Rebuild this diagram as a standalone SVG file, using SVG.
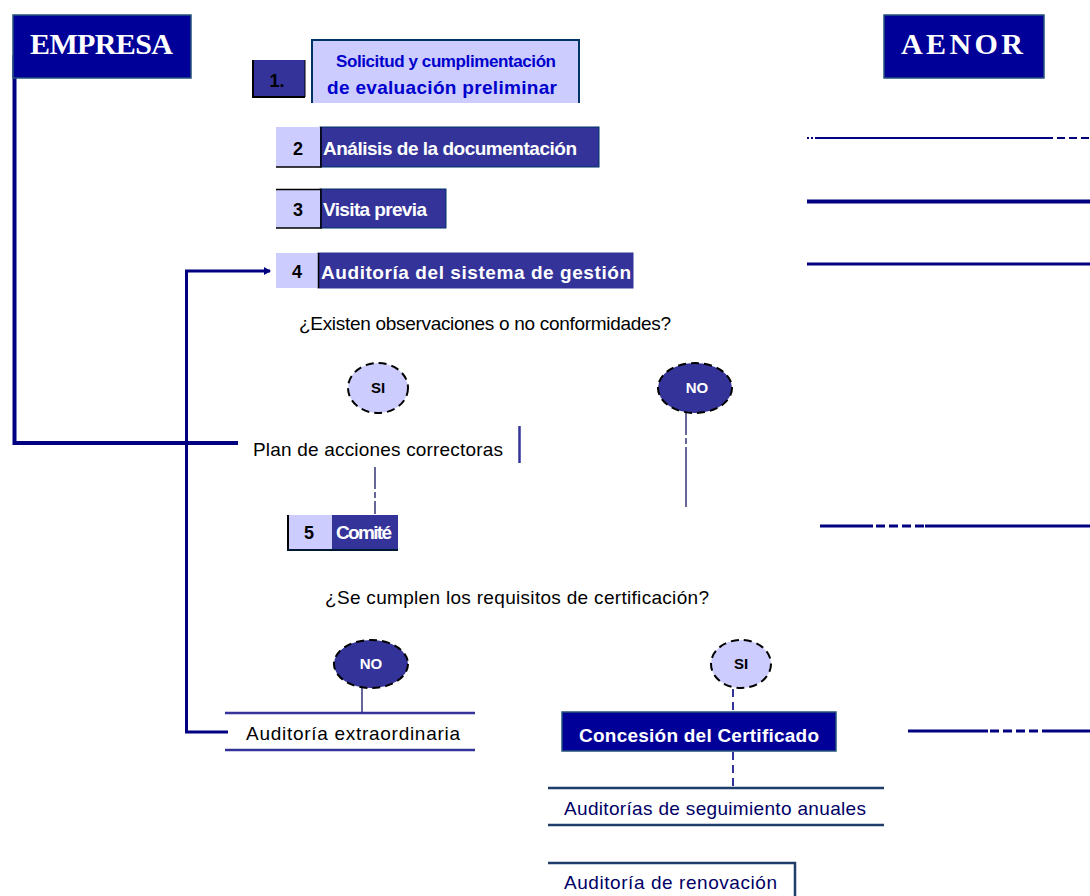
<svg xmlns="http://www.w3.org/2000/svg" width="1090" height="896" viewBox="0 0 1090 896">
<defs>
<style>
.hdr{fill:#000099;stroke:#24527a;stroke-width:1.5}
.hdrt{font-family:"Liberation Serif",serif;font-weight:bold;font-size:30px;fill:#fff}
.dark{fill:#333399}
.light{fill:#ccccff}
.wt{font-family:"Liberation Sans",Arial,sans-serif;font-weight:bold;font-size:19px;fill:#fff}
.num{font-family:"Liberation Sans",Arial,sans-serif;font-weight:bold;font-size:18px;fill:#000;text-anchor:middle}
.bt{font-family:"Liberation Sans",Arial,sans-serif;font-size:19px;fill:#000}
.nt{font-family:"Liberation Sans",Arial,sans-serif;font-size:19px;fill:#000066}
.lane{fill:none;stroke:#000080;stroke-width:4}
.flow{fill:none;stroke:#000080;stroke-width:3}
.thin{fill:none;stroke:#000080;stroke-width:2}
.grey{fill:none;stroke:#666699;stroke-width:2}
.gdash{fill:none;stroke:#666699;stroke-width:2;stroke-dasharray:22 3 6 3 60}
.ndash{fill:none;stroke:#333399;stroke-width:2;stroke-dasharray:8 5}
.rule{fill:none;stroke:#333399;stroke-width:2.5}
.rule2{fill:none;stroke:#1f3d6b;stroke-width:2.5}
.circL{fill:#ccccff;stroke:#000;stroke-width:2;stroke-dasharray:8 5}
.circD{fill:#333399;stroke:#000;stroke-width:2;stroke-dasharray:8 5}
.ct{font-family:"Liberation Sans",Arial,sans-serif;font-weight:bold;font-size:15px;text-anchor:middle}
.blue{font-family:"Liberation Sans",Arial,sans-serif;font-weight:bold;fill:#0000cc;text-anchor:middle}
</style>
<marker id="arr" markerWidth="8" markerHeight="8" refX="6" refY="4" orient="auto" markerUnits="userSpaceOnUse">
<path d="M0,0 L7,4 L0,8 Z" fill="#000080"/>
</marker>
</defs>
<rect width="1090" height="896" fill="#fff"/>

<g id="connectors">
<path class="lane" d="M14.5,55 V443 H238"/>
<path class="flow" d="M228,732 H186.5 V271 H270" marker-end="url(#arr)"/>
<line class="gdash" x1="375" y1="467" x2="375" y2="514"/>
<line class="gdash" x1="686" y1="413" x2="686" y2="513"/>
<line class="grey" x1="362" y1="688" x2="362" y2="713"/>
<line class="ndash" x1="733" y1="689" x2="733" y2="712"/>
<line class="ndash" x1="733" y1="752" x2="733" y2="787"/>
<line x1="519.5" y1="426" x2="519.5" y2="463" stroke="#333399" stroke-width="2.5"/>
<path class="thin" d="M815,138 H1045"/>
<path class="thin" d="M807,138 H813" stroke-dasharray="2 2"/>
<path class="thin" d="M1045,138 H1090" stroke-dasharray="8 4"/>
<path class="lane" d="M807,201.5 H1090"/>
<path class="flow" d="M807,264 H1090"/>
<path class="flow" d="M820,526 H873 M925,526 H1090"/>
<path class="flow" d="M876,526 H925" stroke-dasharray="9 4"/>
<path class="flow" d="M908,731 H988 M1042,731 H1090"/>
<path class="flow" d="M990,731 H1042" stroke-dasharray="9 4"/>
</g>

<g id="empresa">
<rect class="hdr" x="13" y="15" width="178" height="63"/>
<text class="hdrt" x="30" y="54" textLength="143">EMPRESA</text>
</g>
<g id="aenor">
<rect class="hdr" x="884" y="15" width="160" height="63"/>
<text class="hdrt" x="901" y="54" textLength="122">AENOR</text>
</g>

<g id="paso1">
<rect class="dark" x="252" y="60" width="53" height="37"/>
<path d="M253,60 V97 H305" fill="none" stroke="#000" stroke-width="2"/>
<path d="M305,60 V97" fill="none" stroke="#000" stroke-width="1"/>
<text class="num" x="277" y="87">1.</text>
<rect class="light" x="311" y="39" width="269" height="64"/>
<path d="M312,103 V40 H579 V103" fill="none" stroke="#003366" stroke-width="2"/>
<text class="blue" font-size="17" x="446" y="67" textLength="220">Solicitud y cumplimentación</text>
<text class="blue" font-size="19" x="442" y="94" textLength="230">de evaluación preliminar</text>
</g>

<g id="paso2">
<rect class="dark" x="320" y="127" width="279" height="40" stroke="#003366" stroke-width="1"/>
<rect class="light" x="276" y="127" width="44" height="40"/>
<path d="M276,167 H321 V127" fill="none" stroke="#000" stroke-width="1.5"/>
<text class="num" x="298" y="155">2</text>
<text class="wt" x="323" y="155" textLength="254">Análisis de la documentación</text>
</g>

<g id="paso3">
<rect class="dark" x="320" y="189" width="126" height="39" stroke="#003366" stroke-width="1"/>
<rect class="light" x="276" y="189" width="44" height="39"/>
<path d="M276,189.5 H321 V228 H276" fill="none" stroke="#000" stroke-width="1.5"/>
<text class="num" x="298" y="216">3</text>
<text class="wt" x="323" y="216" textLength="104">Visita previa</text>
</g>

<g id="paso4">
<rect class="dark" x="318" y="253" width="315" height="35" stroke="#333399" stroke-width="1"/>
<rect class="light" x="276" y="253" width="42" height="35"/>
<line x1="318.5" y1="253" x2="318.5" y2="288" stroke="#000" stroke-width="1.5"/>
<text class="num" x="297" y="278">4</text>
<text class="wt" x="321" y="279" textLength="310">Auditoría del sistema de gestión</text>
</g>

<g id="pregunta1">
<text class="bt" x="485" y="330" text-anchor="middle" textLength="372">¿Existen observaciones o no conformidades?</text>
</g>

<g id="si1">
<ellipse class="circL" cx="378" cy="388" rx="30" ry="25"/>
<text class="ct" x="378" y="393" fill="#000">SI</text>
</g>
<g id="no1">
<ellipse class="circD" cx="695" cy="388" rx="37" ry="25"/>
<text class="ct" x="697" y="393" fill="#fff">NO</text>
</g>

<g id="plan">
<text class="bt" x="253" y="456" textLength="250">Plan de acciones correctoras</text>
</g>

<g id="paso5">
<rect class="dark" x="332" y="515" width="66" height="35"/>
<rect class="light" x="287" y="515" width="45" height="35"/>
<path d="M288,515 V550 H398" fill="none" stroke="#000" stroke-width="2"/>
<line x1="287" y1="550" x2="398" y2="550" stroke="#003366" stroke-width="1"/>
<text class="num" x="309" y="539">5</text>
<text class="wt" x="336" y="539" font-size="15" textLength="56">Comité</text>
</g>

<g id="pregunta2">
<text class="bt" x="517" y="604" text-anchor="middle" textLength="384">¿Se cumplen los requisitos de certificación?</text>
</g>

<g id="no2">
<ellipse class="circD" cx="371" cy="664" rx="37" ry="24"/>
<text class="ct" x="371" y="669" fill="#fff">NO</text>
</g>
<g id="si2">
<ellipse class="circL" cx="741" cy="664" rx="30" ry="24"/>
<text class="ct" x="741" y="669" fill="#000">SI</text>
</g>

<g id="extraordinaria">
<line class="rule" x1="225" y1="713" x2="475" y2="713"/>
<line class="rule" x1="225" y1="750" x2="475" y2="750"/>
<text class="bt" x="246" y="740" textLength="214">Auditoría extraordinaria</text>
</g>

<g id="concesion">
<rect x="562" y="712" width="274" height="39" fill="#000099" stroke="#24527a" stroke-width="1.5"/>
<text class="wt" x="699" y="742" text-anchor="middle" font-size="18" textLength="240">Concesión del Certificado</text>
</g>

<g id="seguimiento">
<line class="rule2" x1="548" y1="788" x2="884" y2="788"/>
<line class="rule2" x1="548" y1="825" x2="884" y2="825"/>
<text class="nt" x="564" y="815" textLength="302">Auditorías de seguimiento anuales</text>
</g>

<g id="renovacion">
<path class="rule2" d="M548,863 H795 V896"/>
<text class="nt" x="564" y="889" textLength="213">Auditoría de renovación</text>
</g>
</svg>
